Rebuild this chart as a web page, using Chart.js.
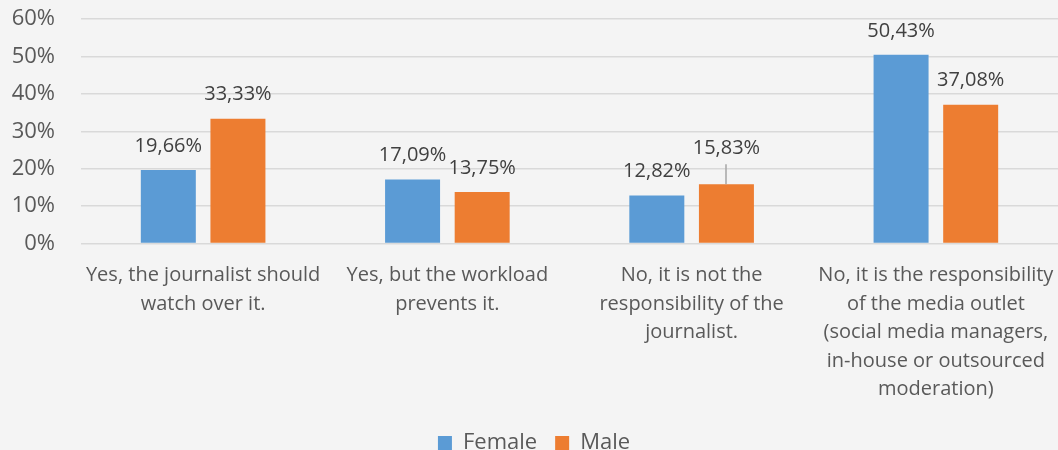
<!DOCTYPE html>
<html>
<head>
<meta charset="utf-8">
<script src="https://cdn.jsdelivr.net/npm/chart.js@4/dist/chart.umd.min.js"></script>
<style>
  html, body { margin: 0; padding: 0; background: #f4f4f4; overflow: hidden; }
  #wrap { width: 1058px; height: 464px; position: relative; }
</style>
</head>
<body>
<div id="wrap"><canvas id="chart"></canvas></div>
<script>
// data
var categories = [
  ['Yes, the journalist should', 'watch over it.'],
  ['Yes, but the workload', 'prevents it.'],
  ['No, it is not the', 'responsibility of the', 'journalist.'],
  ['No, it is the responsibility', 'of the media outlet', '(social media managers,', 'in-house or outsourced', 'moderation)']
];
var female = [19.66, 17.09, 12.82, 50.43];
var male = [33.33, 13.75, 15.83, 37.08];
var yTicks = [0, 10, 20, 30, 40, 50, 60];

var FONT = "'Open Sans', 'Noto Sans', sans-serif";

// draws the value labels above each bar (comma decimals)
var valueLabels = {
  id: 'valueLabels',
  afterDatasetsDraw: function (chart, args, opts) {
    var ctx = chart.ctx;
    ctx.save();
    ctx.font = '20px ' + FONT;
    ctx.fillStyle = '#404040';
    ctx.textAlign = 'center';
    ctx.textBaseline = 'middle';
    chart.data.datasets.forEach(function (ds, di) {
      var meta = chart.getDatasetMeta(di);
      meta.data.forEach(function (bar, i) {
        var txt = ds.data[i].toFixed(2).replace('.', ',') + '%';
        var lift = 0;
        if (opts.leader && opts.leader.dataset === di && opts.leader.index === i) {
          lift = opts.leader.lift;
          ctx.strokeStyle = '#a6a6a6';
          ctx.lineWidth = 1.5;
          ctx.beginPath();
          ctx.moveTo(Math.round(bar.x), bar.y);
          ctx.lineTo(Math.round(bar.x), bar.y - 24 - lift + 16);
          ctx.stroke();
        }
        ctx.fillText(txt, bar.x, bar.y - 24 - lift);
      });
    });
    ctx.restore();
  }
};

// no extra room for overhanging tick labels
function noPad(scale) {
  scale.paddingLeft = 0;
  scale.paddingRight = 0;
  scale.paddingTop = 0;
  scale.paddingBottom = 0;
}

new Chart(document.getElementById('chart'), {
  type: 'bar',
  data: {
    labels: categories,
    datasets: [
      { label: 'Female', data: female, backgroundColor: '#5b9bd5' },
      { label: 'Male', data: male, backgroundColor: '#ed7d31' }
    ]
  },
  options: {
    responsive: true,
    maintainAspectRatio: false,
    animation: false,
    categoryPercentage: 0.57,
    barPercentage: 0.79,
    layout: { padding: { left: 10, right: 0, top: 19, bottom: 0 } },
    scales: {
      x: {
        afterFit: noPad,
        grid: { display: false },
        border: { display: false },
        ticks: {
          color: '#595959',
          font: { family: FONT, size: 20, lineHeight: 1.425 },
          maxRotation: 0,
          autoSkip: false,
          padding: 10
        }
      },
      y: {
        min: 0,
        max: 60,
        afterFit: function (scale) {
          noPad(scale);
          scale.width = 71;
        },
        afterBuildTicks: function (axis) {
          axis.ticks = yTicks.map(function (v) { return { value: v }; });
        },
        grid: { color: '#d9d9d9', lineWidth: 1.5, drawTicks: false },
        border: { display: false },
        ticks: {
          color: '#595959',
          font: { family: FONT, size: 22 },
          padding: 26,
          callback: function (v) { return v + '%'; }
        }
      }
    },
    plugins: {
      legend: {
        position: 'bottom',
        labels: {
          color: '#595959',
          font: { family: FONT, size: 22 },
          boxWidth: 14,
          boxHeight: 14,
          padding: 18
        }
      },
      tooltip: { enabled: false },
      valueLabels: { leader: { dataset: 1, index: 2, lift: 12 } }
    }
  },
  plugins: [valueLabels]
});
</script>
</body>
</html>
